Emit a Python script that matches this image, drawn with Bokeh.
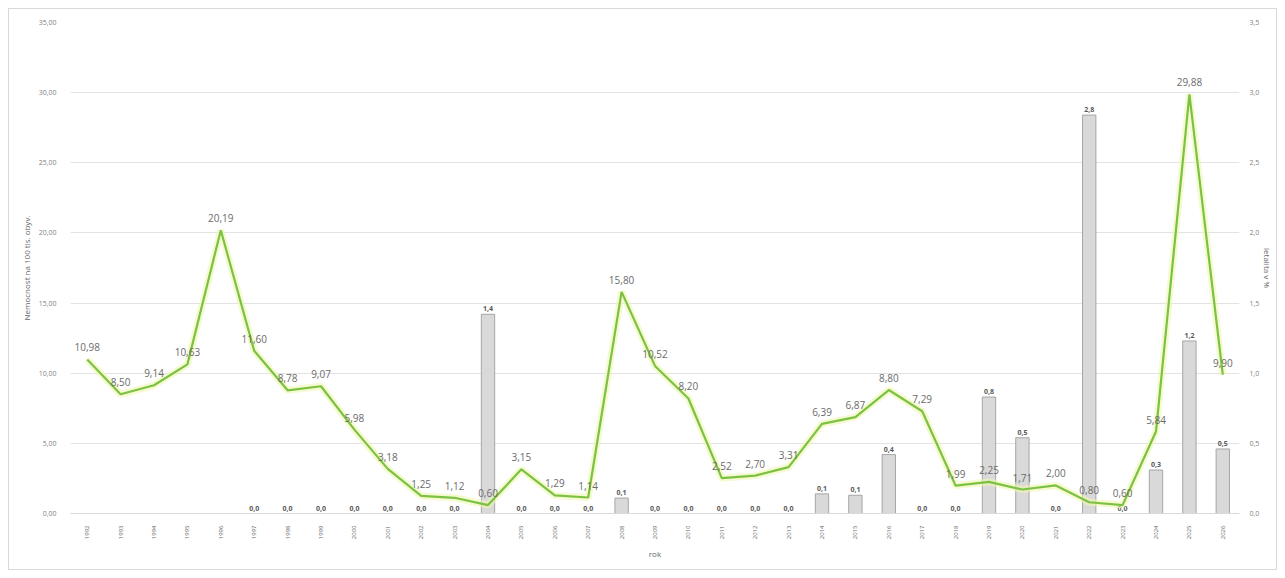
from bokeh.plotting import figure
from bokeh.models import (FactorRange, Range1d, LinearAxis, ColumnDataSource,
                          CustomJSTickFormatter, SingleIntervalTicker)
from bokeh.core.properties import value
from bokeh.embed import file_html
from bokeh.resources import INLINE
import math

years = [str(y) for y in range(1992, 2027)]
incidence = [10.98, 8.50, 9.14, 10.63, 20.19, 11.60, 8.78, 9.07, 5.98, 3.18,
             1.25, 1.12, 0.60, 3.15, 1.29, 1.14, 15.80, 10.52, 8.20, 2.52,
             2.70, 3.31, 6.39, 6.87, 8.80, 7.29, 1.99, 2.25, 1.71, 2.00,
             0.80, 0.60, 5.84, 29.88, 9.90]
lethality_years = [str(y) for y in range(1997, 2027)]
lethality = [0.0, 0.0, 0.0, 0.0, 0.0, 0.0, 0.0, 1.42, 0.0, 0.0,
             0.0, 0.11, 0.0, 0.0, 0.0, 0.0, 0.0, 0.14, 0.13, 0.42,
             0.0, 0.0, 0.83, 0.54, 0.0, 2.84, 0.0, 0.31, 1.23, 0.46]

FONT = "Open Sans"
GRAY = "#7f7f7f"

p = figure(x_range=FactorRange(*years), y_range=Range1d(0, 35),
           width=1267, height=560, output_backend="svg", toolbar_location=None,
           min_border_left=61, min_border_right=20, min_border_top=13, min_border_bottom=56)
p.extra_y_ranges = {"r": Range1d(0, 3.5)}

p.outline_line_color = None
p.border_fill_color = "white"
p.background_fill_color = "white"

# grid
p.xgrid.grid_line_color = None
p.ygrid.grid_line_color = "#e3e3e3"
p.ygrid.grid_line_width = 1

# left axis
la = p.yaxis[0]
la.ticker = SingleIntervalTicker(interval=5)
la.formatter = CustomJSTickFormatter(code="return tick.toFixed(2).replace('.', ',');")
la.axis_label = "Nemocnost na 100 tis. obyv."
la.axis_line_color = None
la.major_tick_line_color = None
la.minor_tick_line_color = None

# right axis
ra = LinearAxis(y_range_name="r", ticker=SingleIntervalTicker(interval=0.5),
                formatter=CustomJSTickFormatter(code="return tick.toFixed(1).replace('.', ',');"),
                axis_label="letalita v %")
ra.axis_line_color = None
ra.major_tick_line_color = None
ra.minor_tick_line_color = None
p.add_layout(ra, "right")

for ax in [la, ra]:
    ax.major_label_text_font = FONT
    ax.major_label_text_font_size = "7px"
    ax.major_label_text_color = GRAY
    ax.axis_label_text_font = FONT
    ax.axis_label_text_font_size = "8px"
    ax.axis_label_text_font_style = "normal"
    ax.axis_label_text_color = "#666666"
    ax.major_label_standoff = 8
    ax.axis_label_standoff = 4
ra.major_label_standoff = 4
ra.axis_label_standoff = 0

xa = p.xaxis[0]
xa.axis_label = "rok"
xa.axis_label_text_font = FONT
xa.axis_label_text_font_size = "8px"
xa.axis_label_text_font_style = "normal"
xa.axis_label_text_color = "#666666"
xa.axis_label_standoff = 6
xa.major_label_orientation = math.pi / 2
xa.major_label_text_font = FONT
xa.major_label_text_font_size = "6px"
xa.major_label_text_color = "#666666"
xa.axis_line_color = "#d9d9d9"
xa.major_tick_line_color = None
xa.minor_tick_line_color = None
xa.major_label_standoff = 6

# bars
bar_src = ColumnDataSource(dict(
    x=lethality_years, top=lethality,
    lbl=[f"{v:.1f}".replace(".", ",") for v in lethality]))
p.vbar(x="x", top="top", width=0.4, source=bar_src, y_range_name="r",
       fill_color="#d9d9d9", line_color="#a6a6a6", line_width=1)
p.text(x="x", y="top", text="lbl", source=bar_src, y_range_name="r",
       text_font=value(FONT), text_font_size="7px", text_color="#595959",
       text_font_style="bold",
       text_align="center", text_baseline="bottom", y_offset=-3)

# line
line_src = ColumnDataSource(dict(
    x=years, y=incidence,
    lbl=[f"{v:.2f}".replace(".", ",") for v in incidence]))
p.line(x="x", y="y", source=line_src, line_color="#eef7b0", line_width=7, line_alpha=0.6)
p.line(x="x", y="y", source=line_src, line_color="#7cc242", line_width=2.2)
p.text(x="x", y="y", text="lbl", source=line_src,
       text_font=value(FONT), text_font_size="10px", text_color="#6b6b6b",
       text_align="center", text_baseline="bottom", y_offset=-8)

html = file_html(p, INLINE)
i = html.rfind("<body>")
html = (html[:i] + "<body style=\"margin:8px\"><div style=\"display:inline-block;"
        "border:1px solid #d9d9d9;line-height:0\">" + html[i + len("<body>"):])
j = html.rfind("</body>")
html = html[:j] + "</div>" + html[j:]
open("out.html", "w").write(html)
